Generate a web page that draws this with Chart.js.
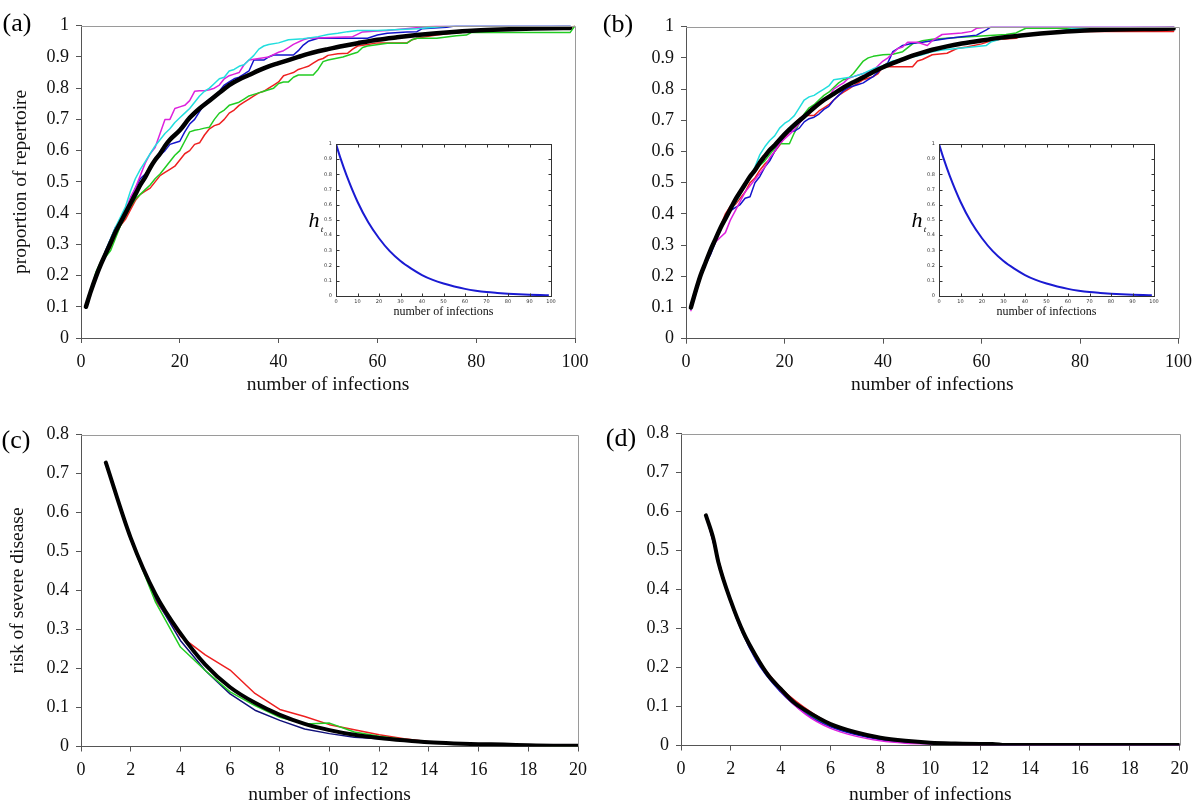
<!DOCTYPE html>
<html><head><meta charset="utf-8">
<script src="https://cdn.jsdelivr.net/npm/chart.js@4.4.1/dist/chart.umd.min.js"></script>
<style>
html,body{margin:0;padding:0;background:#fff;width:1200px;height:803px;overflow:hidden;position:relative}
canvas{position:absolute}
</style></head><body>
<canvas id="pa" width="600" height="400" style="left:0;top:0"></canvas>
<canvas id="pb" width="600" height="400" style="left:600px;top:0"></canvas>
<canvas id="pc" width="600" height="410" style="left:0;top:400px"></canvas>
<canvas id="pd" width="600" height="410" style="left:600px;top:400px"></canvas>
<canvas id="ia" width="275" height="195" style="left:290px;top:130px"></canvas>
<canvas id="ib" width="275" height="195" style="left:893px;top:130px"></canvas>
<script>
// ---------- tick labels ----------
const xTicksTop = [0, 20, 40, 60, 80, 100];
const yTicksTop = [0, 0.1, 0.2, 0.3, 0.4, 0.5, 0.6, 0.7, 0.8, 0.9, 1];
const xTicksBottom = [0, 2, 4, 6, 8, 10, 12, 14, 16, 18, 20];
const yTicksBottom = [0, 0.1, 0.2, 0.3, 0.4, 0.5, 0.6, 0.7, 0.8];
const xTicksInset = [0, 10, 20, 30, 40, 50, 60, 70, 80, 90, 100];
const yTicksInset = [0, 0.1, 0.2, 0.3, 0.4, 0.5, 0.6, 0.7, 0.8, 0.9, 1];

// ---------- panel (a): [infection, proportion] ----------
const aRed = [[1,.10],[3,.19],[5,.27],[6,.29],[7,.33],[8,.36],[9,.38],[10,.41],[11,.44],[12,.46],[13,.47],[14,.48],[15,.50],[16,.52],[17,.53],[18,.54],[19,.55],[20,.57],[21,.59],[22,.60],[23,.62],[24,.625],[25,.65],[26,.67],[27,.68],[28,.685],[29,.70],[30,.72],[31,.73],[32,.745],[33,.755],[34,.765],[35,.775],[36,.785],[37,.79],[38,.80],[39,.81],[40,.82],[41,.84],[42,.845],[43,.85],[44,.86],[45,.865],[46,.87],[47,.88],[48,.89],[49,.895],[50,.905],[52,.91],[54,.912],[55,.925],[56,.935],[58,.94],[60,.945],[66,.945],[67,.955],[68,.96],[70,.965],[72,.97],[75,.976],[77,.978],[78,.987],[90,.988],[92,.99],[99,.993],[100,1]];
const aGreen = [[1,.10],[2,.15],[3,.21],[4,.245],[5,.26],[6,.28],[7,.32],[8,.36],[9,.39],[10,.42],[11,.445],[12,.46],[13,.475],[14,.49],[15,.51],[16,.525],[17,.545],[18,.565],[19,.585],[20,.60],[21,.63],[22,.66],[23,.665],[24,.668],[25,.672],[26,.675],[27,.70],[28,.72],[29,.73],[30,.745],[31,.75],[32,.755],[33,.765],[34,.775],[35,.78],[36,.785],[37,.79],[38,.795],[39,.80],[40,.815],[41,.82],[42,.82],[43,.835],[44,.842],[47,.842],[48,.86],[49,.885],[50,.89],[53,.90],[55,.91],[56,.915],[57,.93],[58,.935],[62,.944],[66,.944],[67,.955],[68,.96],[72,.96],[76,.968],[78,.97],[79,.978],[99,.978],[100,1]];
const aBlue = [[1,.10],[3,.20],[5,.28],[7,.355],[8,.37],[9,.40],[10,.44],[11,.48],[12,.51],[13,.525],[14,.545],[15,.565],[16,.585],[17,.60],[18,.62],[19,.625],[20,.63],[21,.66],[22,.685],[23,.70],[24,.725],[25,.75],[26,.765],[27,.775],[28,.79],[29,.81],[30,.82],[31,.83],[32,.835],[33,.845],[34,.855],[35,.89],[37,.89],[38,.90],[39,.906],[43,.906],[44,.92],[45,.938],[46,.95],[48,.96],[58,.96],[60,.97],[62,.976],[66,.98],[68,.981],[69,.99],[74,.995],[76,1],[99,1]];
const aMagenta = [[1,.10],[3,.20],[5,.28],[7,.35],[9,.41],[10,.45],[11,.48],[12,.52],[13,.56],[14,.59],[15,.61],[16,.655],[17,.70],[18,.70],[19,.735],[20,.74],[21,.745],[22,.76],[23,.79],[24,.792],[25,.792],[26,.795],[27,.80],[28,.81],[29,.83],[30,.84],[31,.845],[32,.85],[33,.875],[34,.89],[36,.895],[38,.90],[40,.915],[41,.92],[42,.93],[43,.94],[45,.955],[46,.96],[55,.965],[57,.98],[60,.983],[62,.985],[70,.997],[72,1],[99,1]];
const aCyan = [[1,.095],[3,.20],[5,.28],[7,.355],[9,.42],[10,.47],[11,.51],[12,.54],[13,.565],[14,.59],[15,.615],[16,.635],[17,.655],[18,.67],[19,.69],[20,.705],[21,.72],[22,.735],[23,.755],[24,.775],[25,.79],[26,.80],[27,.815],[28,.83],[29,.835],[30,.855],[31,.86],[32,.87],[33,.875],[34,.89],[35,.905],[36,.925],[37,.935],[38,.94],[40,.945],[42,.955],[45,.958],[48,.965],[50,.972],[52,.976],[54,.981],[56,.985],[60,.985],[68,.99],[75,1],[99,1]];
const aMean = [[1,.10],[2,.15],[3,.195],[4,.235],[5,.27],[6,.305],[7,.34],[8,.37],[9,.40],[10,.43],[11,.46],[12,.49],[13,.515],[14,.545],[15,.57],[16,.59],[17,.615],[18,.635],[20,.665],[22,.705],[24,.735],[26,.76],[28,.785],[30,.81],[32,.828],[34,.842],[36,.857],[38,.87],[40,.88],[42,.89],[44,.90],[46,.91],[48,.918],[50,.925],[53,.935],[56,.944],[60,.955],[64,.963],[68,.97],[72,.976],[76,.981],[80,.985],[85,.988],[90,.99],[95,.992],[99,.993]];

// ---------- panel (b) ----------
const bRed = [[1,.10],[3,.21],[5,.29],[7,.36],[8,.40],[9,.425],[10,.43],[11,.45],[12,.47],[13,.50],[14,.515],[15,.54],[16,.56],[17,.575],[18,.60],[19,.62],[20,.645],[21,.665],[22,.69],[23,.705],[24,.715],[26,.715],[27,.73],[28,.74],[29,.75],[30,.765],[31,.78],[32,.79],[33,.80],[34,.81],[35,.82],[36,.83],[37,.835],[38,.84],[39,.85],[40,.872],[46,.872],[47,.89],[48,.895],[50,.91],[53,.915],[55,.93],[57,.935],[60,.945],[62,.955],[64,.96],[67,.963],[68,.97],[70,.975],[75,.98],[80,.985],[99,.985]];
const bGreen = [[1,.10],[3,.21],[5,.29],[7,.36],[9,.41],[11,.47],[13,.52],[15,.555],[16,.57],[17,.59],[18,.61],[19,.625],[21,.625],[22,.66],[23,.69],[24,.72],[25,.74],[26,.75],[27,.765],[28,.78],[29,.79],[30,.805],[31,.82],[32,.83],[33,.835],[34,.85],[35,.87],[36,.89],[37,.90],[38,.905],[40,.91],[42,.912],[44,.92],[46,.945],[48,.955],[50,.96],[55,.965],[60,.97],[65,.975],[67,.98],[69,.995],[99,.995]];
const bBlue = [[1,.10],[2,.15],[3,.20],[4,.24],[5,.27],[6,.31],[7,.35],[8,.38],[9,.41],[10,.42],[11,.43],[12,.45],[13,.455],[14,.50],[15,.52],[16,.55],[17,.57],[18,.60],[19,.625],[20,.65],[21,.665],[22,.665],[23,.675],[24,.695],[25,.705],[26,.71],[27,.72],[28,.735],[29,.745],[30,.765],[31,.78],[32,.795],[33,.805],[34,.81],[35,.815],[36,.82],[37,.83],[38,.84],[39,.855],[40,.87],[41,.885],[42,.92],[43,.93],[44,.94],[46,.947],[48,.95],[50,.955],[53,.962],[56,.968],[59,.973],[61,.99],[62,1],[99,1]];
const bMagenta = [[1,.09],[3,.20],[5,.28],[6,.31],[7,.325],[8,.34],[9,.38],[10,.41],[11,.44],[12,.47],[13,.49],[14,.51],[15,.53],[16,.55],[17,.58],[18,.60],[19,.625],[20,.64],[21,.655],[22,.67],[23,.69],[24,.71],[25,.73],[26,.74],[27,.755],[28,.765],[29,.775],[30,.80],[31,.81],[32,.82],[33,.835],[34,.84],[36,.85],[38,.86],[39,.875],[40,.89],[41,.90],[42,.915],[43,.93],[44,.935],[45,.95],[47,.95],[49,.94],[50,.955],[52,.975],[56,.98],[58,.985],[59,.995],[62,1],[99,1]];
const bCyan = [[1,.095],[3,.20],[5,.29],[7,.36],[9,.41],[11,.46],[13,.52],[14,.55],[15,.59],[16,.615],[17,.635],[18,.65],[19,.675],[20,.69],[21,.70],[22,.715],[23,.74],[24,.765],[25,.775],[26,.78],[27,.79],[28,.80],[29,.81],[30,.83],[32,.835],[34,.84],[36,.85],[38,.865],[40,.875],[42,.89],[45,.90],[48,.91],[50,.92],[52,.925],[55,.93],[58,.935],[61,.94],[62,.952],[65,.965],[68,.97],[71,.979],[75,.984],[79,.995],[99,.995]];
const bMean = [[1,.10],[2,.155],[3,.205],[4,.245],[5,.285],[6,.32],[7,.355],[8,.385],[9,.415],[10,.445],[11,.47],[12,.495],[13,.52],[14,.54],[15,.565],[16,.585],[17,.605],[18,.62],[20,.655],[22,.685],[24,.712],[26,.74],[28,.765],[30,.785],[32,.805],[34,.822],[36,.838],[38,.855],[40,.87],[42,.883],[44,.895],[46,.907],[48,.917],[50,.926],[53,.937],[56,.946],[60,.956],[64,.965],[68,.972],[72,.978],[76,.983],[80,.987],[85,.99],[90,.992],[95,.993],[99,.994]];

// ---------- panel (c): risk at infections 1..20 ----------
const cInfections = [1,2,3,4,5,6,7,8,9,10,11,12,13,14,15,16,17,18,19,20];
const cRed   = [.728,.535,.375,.283,.235,.196,.136,.095,.077,.056,.043,.03,.02,.012,.008,.006,.005,.003,.002,.002];
const cGreen = [.728,.53,.37,.255,.195,.14,.105,.075,.058,.06,.037,.026,.018,.011,.008,.005,.004,.003,.002,.002];
const cBlue  = [.728,.53,.38,.272,.195,.135,.093,.067,.045,.033,.024,.02,.016,.01,.007,.005,.004,.003,.002,.002];
const cMean  = [.728,.535,.39,.29,.21,.152,.112,.081,.058,.042,.03,.022,.016,.011,.008,.006,.005,.003,.002,.002];

// ---------- panel (d) ----------
const dRed = [[1,.59],[2,.372],[3,.232],[4,.148],[5,.095],[6,.056],[7,.033],[8,.018],[9,.01],[10,.006],[12,.004],[14,.001],[20,.001]];
const dGreen = [[1,.59],[2,.37],[3,.228],[4,.143],[5,.085],[6,.05],[7,.03],[8,.017],[9,.009],[10,.005],[12,.003],[14,.001],[20,.001]];
const dBlue = [[1,.59],[2,.365],[3,.22],[4,.137],[5,.082],[6,.048],[7,.028],[8,.015],[9,.008],[10,.005],[12,.003],[14,.001],[20,.001]];
const dMagenta = [[1,.59],[2,.368],[3,.225],[4,.14],[5,.08],[6,.044],[7,.024],[8,.012],[9,.006],[10,.004],[12,.002],[14,.001],[20,.001]];
const dMean = [[1,.59],[1.3,.53],[1.5,.47],[2,.37],[2.5,.29],[3,.23],[3.5,.18],[4,.145],[4.5,.112],[5,.09],[6,.055],[7,.034],[8,.02],[9,.012],[10,.007],[11,.005],[12,.004],[12.5,.004],[13,.001],[20,.001]];

// ---------- insets: h_t ----------
const hInsetA = [[0,1],[2,.91],[5,.79],[10,.62],[15,.485],[20,.38],[25,.295],[30,.23],[35,.18],[40,.138],[45,.106],[50,.082],[55,.063],[60,.047],[65,.035],[70,.026],[75,.02],[80,.015],[85,.011],[90,.008],[95,.006],[99,.005]];
const hInsetB = [[0,1],[2,.91],[5,.79],[10,.62],[15,.485],[20,.38],[25,.295],[30,.23],[35,.18],[40,.138],[45,.106],[50,.082],[55,.063],[60,.047],[65,.035],[70,.026],[75,.02],[80,.015],[85,.011],[90,.008],[95,.006],[99,.005]];

// ---------- styling ----------
const SERIF = "'Liberation Serif','Times New Roman',serif";
const RED = '#ee2020', GREEN = '#22cc22', BLUE = '#1414cc', NAVY = '#10107a', MAGENTA = '#dd22dd', CYAN = '#22dede', BLACK = '#000';

const pairs = arr => arr.map(p => ({x: p[0], y: p[1]}));
const zipXY = (xs, ys) => xs.map((x, i) => ({x, y: ys[i]}));

const framePlugin = {
  id: 'frame',
  afterDraw(chart, args, o) {
    const {ctx, chartArea: a} = chart;
    ctx.save();
    ctx.strokeStyle = '#9a9a9a';
    ctx.lineWidth = 1;
    ctx.beginPath();
    ctx.moveTo(a.left, Math.round(a.top) + 0.5);
    ctx.lineTo(Math.round(a.right) + 0.5, Math.round(a.top) + 0.5);
    ctx.lineTo(Math.round(a.right) + 0.5, a.bottom);
    ctx.stroke();
    ctx.fillStyle = '#000';
    ctx.font = '26px ' + SERIF;
    ctx.textAlign = 'center';
    ctx.textBaseline = 'middle';
    ctx.fillText(o.label, o.lx, o.ly);
    ctx.restore();
  }
};

function mainChart(id, o) {
  // Chart.js paints dataset 0 last, so reverse: the mean (listed last) ends on top
  const datasets = o.series.slice().reverse().map(s => ({
    data: s.data, showLine: true, borderColor: s.color, backgroundColor: s.color,
    borderWidth: s.width, pointRadius: 0, fill: false,
    tension: s.smooth ? 0.35 : 0, cubicInterpolationMode: s.smooth ? 'monotone' : 'default',
    borderJoinStyle: 'round', borderCapStyle: 'round'
  }));
  return new Chart(document.getElementById(id), {
    type: 'scatter',
    data: {datasets},
    options: {
      responsive: false, animation: false, devicePixelRatio: 1,
      layout: {padding: {left: 0, top: o.top, right: o.right, bottom: 0}},
      plugins: {legend: {display: false}, tooltip: {enabled: false},
        frame: {label: o.label, lx: o.lx, ly: o.ly}},
      scales: {
        x: {
          type: 'linear', min: o.xTicks[0], max: o.xTicks[o.xTicks.length - 1],
          afterBuildTicks: s => { s.ticks = o.xTicks.map(v => ({value: v})); },
          afterFit: s => { s.height = o.xH; },
          grid: {drawOnChartArea: false, drawTicks: true, tickLength: 5, color: '#555'},
          border: {color: '#555', width: 1},
          ticks: {font: {family: SERIF, size: 18}, color: '#111', padding: 8, maxRotation: 0, autoSkip: false, callback: v => String(v)},
          title: {display: true, text: 'number of infections', color: '#111', font: {family: SERIF, size: 19.5}, padding: {top: 0, bottom: 3}}
        },
        y: {
          type: 'linear', min: o.yTicks[0], max: o.yTicks[o.yTicks.length - 1],
          afterBuildTicks: s => { s.ticks = o.yTicks.map(v => ({value: v})); },
          afterFit: s => { s.width = o.yW; },
          grid: {drawOnChartArea: false, drawTicks: true, tickLength: 5, color: '#555'},
          border: {color: '#555', width: 1},
          ticks: {font: {family: SERIF, size: 18}, color: '#111', padding: 7, autoSkip: false, callback: v => String(v)},
          title: {display: !!o.yTitle, text: o.yTitle || '', color: '#111', font: {family: SERIF, size: 19.5}, padding: {top: o.yTitlePad || 0, bottom: 0}}
        }
      }
    },
    plugins: [framePlugin]
  });
}

const insetPlugin = {
  id: 'insetFrame',
  afterDraw(chart) {
    const {ctx, chartArea: a, scales} = chart;
    ctx.save();
    ctx.strokeStyle = '#333';
    ctx.lineWidth = 1;
    const L = Math.round(a.left) + 0.5, R = Math.round(a.right) + 0.5, T = Math.round(a.top) + 0.5, B = Math.round(a.bottom) + 0.5;
    ctx.strokeRect(L, T, R - L, B - T);
    ctx.beginPath();
    scales.x.ticks.forEach(t => {
      const px = Math.round(scales.x.getPixelForValue(t.value)) + 0.5;
      ctx.moveTo(px, B); ctx.lineTo(px, B - 3);
      ctx.moveTo(px, T); ctx.lineTo(px, T + 3);
    });
    scales.y.ticks.forEach(t => {
      const py = Math.round(scales.y.getPixelForValue(t.value)) + 0.5;
      ctx.moveTo(L, py); ctx.lineTo(L + 3, py);
      ctx.moveTo(R, py); ctx.lineTo(R - 3, py);
    });
    ctx.stroke();
    ctx.fillStyle = '#000';
    ctx.textAlign = 'center';
    ctx.textBaseline = 'alphabetic';
    ctx.font = 'italic 22px ' + SERIF;
    ctx.fillText('h', 24, 97);
    ctx.font = 'italic 9px ' + SERIF;
    ctx.fillText('t', 32, 102);
    ctx.restore();
  }
};

function insetChart(id, data) {
  return new Chart(document.getElementById(id), {
    type: 'scatter',
    data: {datasets: [{data: pairs(data), showLine: true, borderColor: '#1a1ad2', borderWidth: 2, pointRadius: 0, tension: 0.4, cubicInterpolationMode: 'monotone'}]},
    options: {
      responsive: false, animation: false, devicePixelRatio: 1,
      layout: {padding: {left: 0, top: 14, right: 14, bottom: 0}},
      plugins: {legend: {display: false}, tooltip: {enabled: false}},
      scales: {
        x: {
          type: 'linear', min: 0, max: 100,
          afterBuildTicks: s => { s.ticks = xTicksInset.map(v => ({value: v})); },
          afterFit: s => { s.height = 29; },
          grid: {display: false, drawTicks: false}, border: {display: false},
          ticks: {font: {family: 'DejaVu Sans', size: 5}, color: '#333', padding: 3, maxRotation: 0, autoSkip: false, callback: v => String(v)},
          title: {display: true, text: 'number of infections', color: '#111', font: {family: SERIF, size: 12}, padding: {top: 0, bottom: 6}}
        },
        y: {
          type: 'linear', min: 0, max: 1,
          afterBuildTicks: s => { s.ticks = yTicksInset.map(v => ({value: v})); },
          afterFit: s => { s.width = 46; },
          grid: {display: false, drawTicks: false}, border: {display: false},
          ticks: {font: {family: 'DejaVu Sans', size: 5}, color: '#333', padding: 4, autoSkip: false, callback: v => String(v)}
        }
      }
    },
    plugins: [insetPlugin]
  });
}

mainChart('pa', {
  label: '(a)', lx: 17, ly: 24, top: 25.7, right: 25, xH: 62, yW: 81, yTitle: 'proportion of repertoire', yTitlePad: 9,
  xTicks: xTicksTop, yTicks: yTicksTop,
  series: [
    {data: pairs(aRed), color: RED, width: 1.5},
    {data: pairs(aGreen), color: GREEN, width: 1.5},
    {data: pairs(aBlue), color: BLUE, width: 1.5},
    {data: pairs(aMagenta), color: MAGENTA, width: 1.5},
    {data: pairs(aCyan), color: CYAN, width: 1.5},
    {data: pairs(aMean), color: BLACK, width: 4.5, smooth: true}
  ]
});
mainChart('pb', {
  label: '(b)', lx: 18, ly: 25, top: 26.7, right: 21, xH: 61.3, yW: 86,
  xTicks: xTicksTop, yTicks: yTicksTop,
  series: [
    {data: pairs(bRed), color: RED, width: 1.5},
    {data: pairs(bGreen), color: GREEN, width: 1.5},
    {data: pairs(bBlue), color: BLUE, width: 1.5},
    {data: pairs(bMagenta), color: MAGENTA, width: 1.5},
    {data: pairs(bCyan), color: CYAN, width: 1.5},
    {data: pairs(bMean), color: BLACK, width: 4.5, smooth: true}
  ]
});
mainChart('pc', {
  label: '(c)', lx: 16, ly: 41, top: 34.5, right: 22, xH: 63.5, yW: 81, yTitle: 'risk of severe disease', yTitlePad: 6,
  xTicks: xTicksBottom, yTicks: yTicksBottom,
  series: [
    {data: zipXY(cInfections, cRed), color: RED, width: 1.5},
    {data: zipXY(cInfections, cBlue), color: NAVY, width: 1.5},
    {data: zipXY(cInfections, cGreen), color: GREEN, width: 1.5},
    {data: zipXY(cInfections, cMean), color: BLACK, width: 4, smooth: true}
  ]
});
mainChart('pd', {
  label: '(d)', lx: 21, ly: 39, top: 33.5, right: 20.5, xH: 64.5, yW: 81,
  xTicks: xTicksBottom, yTicks: yTicksBottom,
  series: [
    {data: pairs(dRed), color: RED, width: 1.5, smooth: true},
    {data: pairs(dGreen), color: GREEN, width: 1.5, smooth: true},
    {data: pairs(dBlue), color: BLUE, width: 1.5, smooth: true},
    {data: pairs(dMagenta), color: MAGENTA, width: 1.5, smooth: true},
    {data: pairs(dMean), color: BLACK, width: 4, smooth: true}
  ]
});
insetChart('ia', hInsetA);
insetChart('ib', hInsetB);
</script>
</body></html>
